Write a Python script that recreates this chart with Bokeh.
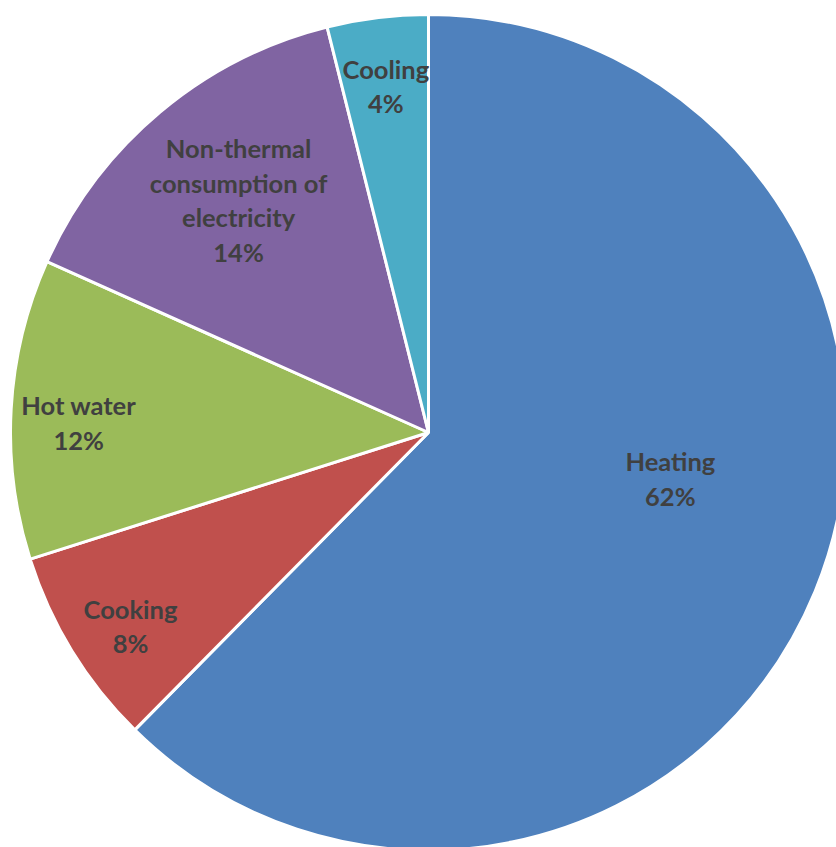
import math
from bokeh.plotting import figure
from bokeh.models import Range1d, ColumnDataSource
from bokeh.core.properties import value
from bokeh.embed import file_html
from bokeh.resources import INLINE

categories = ["Heating", "Cooking", "Hot water", "Non-thermal\nconsumption of\nelectricity", "Cooling"]
shares = [62.4, 7.7, 11.6, 14.4, 3.9]
colors = ["#4F81BD", "#C0504D", "#9BBB59", "#8064A2", "#4BACC6"]

# label placement styling (fraction of radius, angular nudge in degrees)
label_rfrac = [0.589, 0.85, 0.837, 0.718, 0.835]
label_nudge = [-11.5, -1.5, -1.6, 0.7, 0.0]

W, H = 836, 847
cx, cy, R = 428, 415, 418

total = sum(shares)
starts, ends, lx, ly, texts = [], [], [], [], []
cum = 0.0
for cat, v, rf, nd in zip(categories, shares, label_rfrac, label_nudge):
    a0 = cum / total * 2 * math.pi
    cum += v
    a1 = cum / total * 2 * math.pi
    starts.append(math.pi / 2 - a1)
    ends.append(math.pi / 2 - a0)
    mid = (a0 + a1) / 2 + math.radians(nd)
    lx.append(cx + rf * R * math.sin(mid))
    ly.append(cy + rf * R * math.cos(mid))
    texts.append(f"{cat}\n{round(v / total * 100)}%")

src = ColumnDataSource(dict(start=starts, end=ends, color=colors,
                            x=[cx] * len(shares), y=[cy] * len(shares)))
lab = ColumnDataSource(dict(x=lx, y=ly, text=texts))

p = figure(width=W, height=H, output_backend="svg", toolbar_location=None,
           x_range=Range1d(0, W), y_range=Range1d(0, H), min_border=0)
p.axis.visible = False
p.grid.visible = False
p.outline_line_color = None
p.background_fill_color = "white"
p.border_fill_color = "white"

p.wedge(x="x", y="y", radius=R, start_angle="start", end_angle="end",
        fill_color="color", line_color="white", line_width=3, source=src)
p.text(x="x", y="y", text="text", source=lab, text_align="center",
       text_baseline="middle", text_font=value("Lato"), text_font_style="bold",
       text_font_size="25.5px", text_color="#404040", text_line_height=1.15)

open("out.html", "w").write(file_html(p, INLINE))
